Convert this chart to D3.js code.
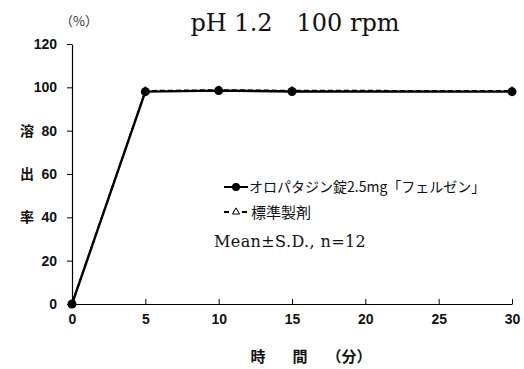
<!DOCTYPE html>
<html>
<head>
<meta charset="utf-8">
<script src="https://cdn.jsdelivr.net/npm/d3@7"></script>
<style>
  body { margin: 0; background: #fff; }
  svg { display: block; }
</style>
</head>
<body>
<svg id="chart"></svg>
<script>
// data
const times = [0, 5, 10, 15, 30];
const testValues = [0, 98.0, 98.5, 98.1, 98.0];       // オロパタジン錠2.5mg「フェルゼン」
const refValues = [0, 98.4, 98.8, 98.5, 98.4];        // 標準製剤
const xTicks = [0, 5, 10, 15, 20, 25, 30];
const yTicks = [0, 20, 40, 60, 80, 100, 120];
const seriesNames = ["オロパタジン錠2.5mg「フェルゼン」", "標準製剤"];

const W = 524, H = 369;
const margin = { top: 44, right: 12, bottom: 65, left: 72 };
const width = W - margin.left - margin.right,
      height = H - margin.top - margin.bottom;

const jp = "'Noto Sans CJK JP', sans-serif";
const sans = "'Liberation Sans', Arial, sans-serif";
const serif = "'DejaVu Serif', 'Liberation Serif', serif";

const svg = d3.select("#chart").attr("width", W).attr("height", H);
const g = svg.append("g").attr("transform", `translate(${margin.left}, ${margin.top})`);

const x = d3.scaleLinear().domain([0, 30]).range([0, width]);
const y = d3.scaleLinear().domain([0, 120]).range([height, 0]);

// X axis, ticks pointing up
const xAxis = g.append("g")
  .attr("transform", `translate(0, ${height})`)
  .call(d3.axisBottom(x).tickValues(xTicks).tickSizeInner(-5).tickSizeOuter(0).tickPadding(10));
xAxis.select(".domain").attr("stroke", "#000").attr("stroke-width", 1.2);
xAxis.selectAll(".tick line").attr("stroke", "#000");
xAxis.selectAll("text").attr("font-family", sans).attr("font-weight", "bold")
  .attr("font-size", 14).attr("fill", "#111");

// Y axis, ticks pointing left
const yAxis = g.append("g")
  .call(d3.axisLeft(y).tickValues(yTicks).tickSizeInner(5).tickSizeOuter(0).tickPadding(10));
yAxis.select(".domain").attr("stroke", "#000").attr("stroke-width", 1.2);
yAxis.selectAll(".tick line").attr("stroke", "#000");
yAxis.selectAll("text").attr("font-family", sans).attr("font-weight", "bold")
  .attr("font-size", 14).attr("fill", "#111");

// title
svg.append("text")
  .attr("x", 295).attr("y", 31)
  .attr("text-anchor", "middle")
  .attr("font-family", serif).attr("font-size", 24).attr("fill", "#111")
  .attr("xml:space", "preserve")
  .text("pH 1.2\u3000100 rpm");

// unit
svg.append("text")
  .attr("x", 60).attr("y", 26)
  .attr("font-family", jp).attr("font-size", 13).attr("fill", "#333")
  .text("（%）");

// y label
["溶", "出", "率"].forEach((c, i) => {
  svg.append("text")
    .attr("x", 27).attr("y", margin.top + y(80 - i * 20) + 5)
    .attr("text-anchor", "middle")
    .attr("font-family", jp).attr("font-weight", "bold").attr("font-size", 14).attr("fill", "#111")
    .text(c);
});

// x label
[["時", 258], ["間", 300], ["（分）", 349]].forEach(([t, cx]) => {
  svg.append("text")
    .attr("x", cx).attr("y", 362)
    .attr("text-anchor", "middle")
    .attr("font-family", jp).attr("font-weight", "bold").attr("font-size", 15).attr("fill", "#111")
    .text(t);
});

const line = d3.line().x(d => x(d[0])).y(d => y(d[1]));
const testData = times.map((t, i) => [t, testValues[i]]);
const refData = times.map((t, i) => [t, refValues[i]]);

// test product, solid with filled circles
g.append("path").datum(testData)
  .attr("d", line).attr("fill", "none").attr("stroke", "#000").attr("stroke-width", 2.4);

// reference product, dashed with open triangles
g.append("path").datum(refData)
  .attr("d", line).attr("fill", "none").attr("stroke", "#000").attr("stroke-width", 1.6)
  .attr("stroke-dasharray", "5,3");
const tri = d3.symbol().type(d3.symbolTriangle).size(22);
g.selectAll(".tri").data(refData).enter().append("path")
  .attr("d", tri).attr("transform", d => `translate(${x(d[0])}, ${y(d[1])})`)
  .attr("fill", "#fff").attr("stroke", "#000").attr("stroke-width", 1);
// circles on top like the reference
g.selectAll(".dot").data(testData).enter().append("circle")
  .attr("cx", d => x(d[0])).attr("cy", d => y(d[1])).attr("r", 4.5).attr("fill", "#000");

// legend
const lg = svg.append("g");
lg.append("line").attr("x1", 224).attr("x2", 248).attr("y1", 187).attr("y2", 187)
  .attr("stroke", "#000").attr("stroke-width", 2);
lg.append("circle").attr("cx", 236).attr("cy", 187).attr("r", 4).attr("fill", "#000");
lg.append("text").attr("x", 249).attr("y", 192)
  .attr("font-family", jp).attr("font-size", 14).attr("fill", "#111")
  .text(seriesNames[0]);

lg.append("line").attr("x1", 224).attr("x2", 248).attr("y1", 212).attr("y2", 212)
  .attr("stroke", "#000").attr("stroke-width", 2).attr("stroke-dasharray", "5,4");
lg.append("path").attr("d", tri).attr("transform", "translate(236, 212)")
  .attr("fill", "#fff").attr("stroke", "#000").attr("stroke-width", 1);
lg.append("text").attr("x", 251).attr("y", 218)
  .attr("font-family", jp).attr("font-size", 15).attr("fill", "#111")
  .text(seriesNames[1]);

lg.append("text").attr("x", 214).attr("y", 247)
  .attr("font-family", serif).attr("font-size", 16).attr("fill", "#111")
  .attr("letter-spacing", 0.4)
  .text("Mean\u00b1S.D., n=12");
</script>
</body>
</html>
